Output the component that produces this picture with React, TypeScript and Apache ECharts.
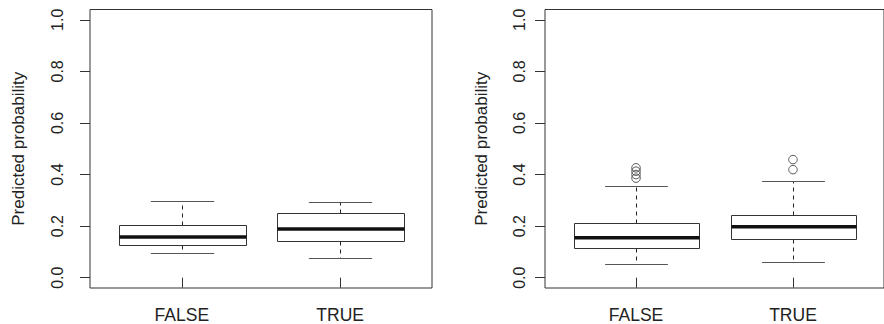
import React, { useEffect, useRef } from "react";
import * as echarts from "echarts";

const categories = ["FALSE", "TRUE"];
const yTicks = [0, 0.2, 0.4, 0.6, 0.8, 1.0];
const xTicks = [1, 2];
// [lower whisker, Q1, median, Q3, upper whisker]
const leftFalse = [0.096, 0.128, 0.158, 0.205, 0.296];
const leftTrue = [0.075, 0.142, 0.189, 0.249, 0.295];
const rightFalse = [0.053, 0.115, 0.155, 0.212, 0.357];
const rightTrue = [0.061, 0.151, 0.198, 0.244, 0.375];
const rightOutliersFalse = [0.386, 0.4, 0.413, 0.426];
const rightOutliersTrue = [0.419, 0.458];
const yTitle = "Predicted probability";

const FONT = "'Liberation Sans', Arial, sans-serif";

function renderBox(params: any, api: any) {
  const x = api.value(0);
  const lw = api.value(1);
  const q1 = api.value(2);
  const med = api.value(3);
  const q3 = api.value(4);
  const uw = api.value(5);
  const cx = Math.round(api.coord([x, med])[0]) + 0.5;
  const half = api.size([0.8, 0])[0] / 2;
  const sHalf = half / 2;
  const py = (v: number) => Math.round(api.coord([x, v])[1]) + 0.5;
  const yLw = py(lw), yQ1 = py(q1), yMed = api.coord([x, med])[1], yQ3 = py(q3), yUw = py(uw);
  const left = Math.round(cx - half) + 0.5;
  const right = Math.round(cx + half) + 0.5;
  const dash = { stroke: "#222", lineWidth: 1, lineDash: [4, 4] };
  const staple = { stroke: "#555", lineWidth: 1 };
  return {
    type: "group",
    children: [
      { type: "line", shape: { x1: cx, y1: yQ3, x2: cx, y2: yUw }, style: dash },
      { type: "line", shape: { x1: cx, y1: yQ1, x2: cx, y2: yLw }, style: dash },
      { type: "line", shape: { x1: cx - sHalf, y1: yUw, x2: cx + sHalf, y2: yUw }, style: staple },
      { type: "line", shape: { x1: cx - sHalf, y1: yLw, x2: cx + sHalf, y2: yLw }, style: staple },
      {
        type: "rect",
        shape: { x: left, y: yQ3, width: right - left, height: yQ1 - yQ3 },
        style: { fill: "#fff", stroke: "#333", lineWidth: 1 },
      },
      { type: "line", shape: { x1: left, y1: yMed, x2: right, y2: yMed }, style: { stroke: "#111", lineWidth: 3.5 } },
    ],
  };
}

function makeAxes(gridIndex: number, labelMargin: number, nameGap: number) {
  const x = {
    type: "value",
    gridIndex,
    min: 0.42,
    max: 2.58,
    splitLine: { show: false },
    axisLine: { show: false },
    axisTick: { show: true, length: 10, customValues: xTicks, lineStyle: { color: "#333" } },
    axisLabel: {
      show: true,
      customValues: xTicks,
      formatter: (v: number) => categories[Math.round(v) - 1] ?? "",
      fontFamily: FONT,
      fontSize: 17.5,
      color: "#222",
      margin: 18,
    },
  };
  const y = {
    type: "value",
    gridIndex,
    min: -0.04,
    max: 1.04,
    splitLine: { show: false },
    axisLine: { show: false },
    axisTick: { show: true, length: 10, customValues: yTicks, lineStyle: { color: "#333" } },
    axisLabel: {
      show: true,
      customValues: yTicks,
      rotate: 90,
      formatter: (v: number) => v.toFixed(1),
      fontFamily: FONT,
      fontSize: 16,
      color: "#222",
      margin: labelMargin,
    },
    name: yTitle,
    nameLocation: "middle",
    nameRotate: 90,
    nameGap,
    nameTextStyle: { fontFamily: FONT, fontSize: 17, color: "#222" },
  };
  return { x, y };
}

export default function App() {
  const ref = useRef<HTMLDivElement>(null);
  useEffect(() => {
    if (!ref.current) return;
    const chart = echarts.init(ref.current, null, { renderer: "svg" });
    const a0 = makeAxes(0, 25, 63);
    const a1 = makeAxes(1, 18, 55);
    chart.setOption({
      animation: false,
      backgroundColor: "#fff",
      grid: [
        { left: 90, top: 9.5, width: 342, height: 279, show: true, borderColor: "#333", borderWidth: 1, backgroundColor: "transparent" },
        { left: 545, top: 9.5, width: 342, height: 279, show: true, borderColor: "#333", borderWidth: 1, backgroundColor: "transparent" },
      ],
      xAxis: [a0.x, a1.x],
      yAxis: [a0.y, a1.y],
      series: [
        {
          type: "custom",
          xAxisIndex: 0,
          yAxisIndex: 0,
          renderItem: renderBox,
          data: [
            [1, ...leftFalse],
            [2, ...leftTrue],
          ],
          silent: true,
        },
        {
          type: "custom",
          xAxisIndex: 1,
          yAxisIndex: 1,
          renderItem: renderBox,
          data: [
            [1, ...rightFalse],
            [2, ...rightTrue],
          ],
          silent: true,
        },
        {
          type: "scatter",
          xAxisIndex: 1,
          yAxisIndex: 1,
          symbol: "circle",
          symbolSize: 8.5,
          itemStyle: { color: "rgba(0,0,0,0)", borderColor: "#333", borderWidth: 1 },
          data: [
            ...rightOutliersFalse.map((v) => [1, v]),
            ...rightOutliersTrue.map((v) => [2, v]),
          ],
          silent: true,
        },
      ],
    });
    return () => chart.dispose();
  }, []);
  return (
    <div
      ref={ref}
      style={{ position: "fixed", left: 0, top: 0, width: 884, height: 324, background: "#fff" }}
    />
  );
}
